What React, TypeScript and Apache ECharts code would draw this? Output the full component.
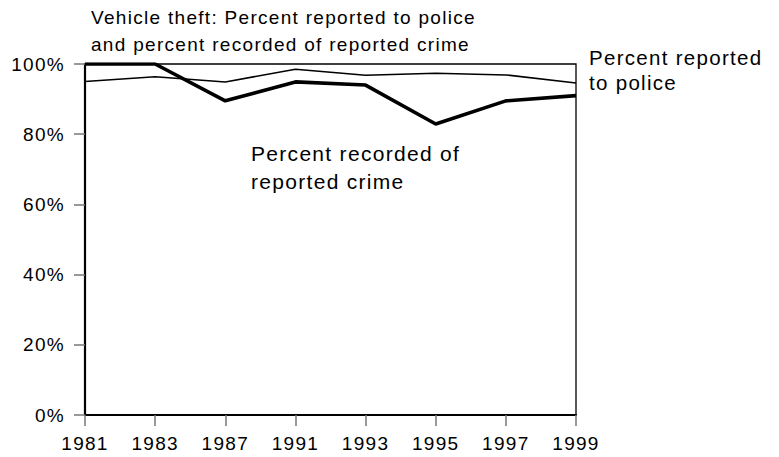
import React, { useEffect, useRef } from "react";
import * as echarts from "echarts";

const years = ["1981", "1983", "1987", "1991", "1993", "1995", "1997", "1999"];
const reportedToPolice = [95.0, 96.4, 94.9, 98.5, 96.8, 97.4, 96.9, 94.6];
const recordedOfReported = [100, 100, 89.5, 94.9, 94.0, 82.9, 89.5, 91.0];
const yTicks = { min: 0, max: 100, interval: 20 };
const titleLines = ["Vehicle theft: Percent reported to police", "and percent recorded of reported crime"];
const reportedLabelLines = ["Percent reported", "to police"];
const recordedLabelLines = ["Percent recorded of", "reported crime"];

const FONT = "'Liberation Sans', Arial, sans-serif";

function lineTexts(lines: string[], x: number, ys: number[], size: number) {
  return lines.map((t, i) => ({
    type: "text",
    x,
    y: ys[i],
    style: {
      text: t,
      font: `${size}px ${FONT}`,
      fill: "#000",
      textAlign: "left",
      textVerticalAlign: "middle",
    },
  }));
}

export default function App() {
  const ref = useRef<HTMLDivElement>(null);
  useEffect(() => {
    if (!ref.current) return;
    const chart = echarts.init(ref.current, undefined, { renderer: "svg" });
    chart.setOption({
      animation: false,
      backgroundColor: "#fff",
      grid: {
        left: 85,
        right: 203,
        top: 64,
        bottom: 42,
        show: true,
        borderColor: "#000",
        borderWidth: 1.3,
        containLabel: false,
      },
      xAxis: {
        type: "category",
        data: years,
        boundaryGap: false,
        axisLine: { show: true, lineStyle: { color: "#000", width: 2.2 } },
        axisTick: { show: true, length: 11, lineStyle: { color: "#777", width: 1.5 } },
        axisLabel: { color: "#000", fontSize: 19, fontFamily: FONT, margin: 19 },
        splitLine: { show: false },
      },
      yAxis: {
        type: "value",
        min: yTicks.min,
        max: yTicks.max,
        interval: yTicks.interval,
        axisLine: { show: true, lineStyle: { color: "#000", width: 2.2 } },
        axisTick: { show: true, length: 11, lineStyle: { color: "#777", width: 1.5 } },
        axisLabel: { color: "#000", fontSize: 19, fontFamily: FONT, formatter: "{value}%", margin: 20 },
        splitLine: { show: false },
      },
      series: [
        {
          name: "Percent reported to police",
          type: "line",
          data: reportedToPolice,
          symbol: "none",
          lineStyle: { color: "#000", width: 1.5 },
          z: 3,
        },
        {
          name: "Percent recorded of reported crime",
          type: "line",
          data: recordedOfReported,
          symbol: "none",
          lineStyle: { color: "#000", width: 3.6 },
          z: 4,
        },
      ],
      graphic: [
        ...lineTexts(titleLines, 91, [17.5, 44.9], 19),
        ...lineTexts(reportedLabelLines, 589, [57.5, 82.5], 20.5),
        ...lineTexts(recordedLabelLines, 251, [153.5, 181.5], 21),
      ],
    });
    return () => chart.dispose();
  }, []);
  return (
    <div className="rc-wrap">
      <style>{`.rc-wrap svg text { letter-spacing: 1.3px; }`}</style>
      <div ref={ref} style={{ width: 779, height: 457, position: "absolute", left: 0, top: 0 }} />
    </div>
  );
}
